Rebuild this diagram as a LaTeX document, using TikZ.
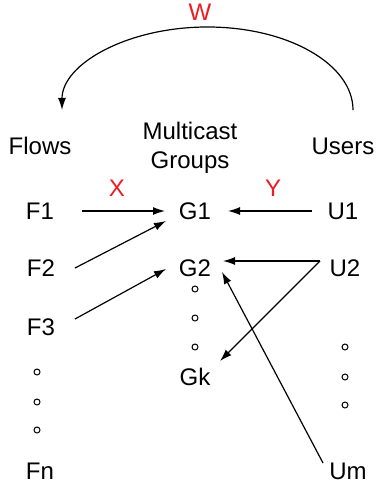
\documentclass[tikz,border=0pt]{standalone}
\usepackage{fontspec}
\setmainfont{Liberation Sans}
\usepackage{xcolor}
\usepackage{tikz}
\usetikzlibrary{arrows.meta, positioning, calc}
\definecolor{wred}{RGB}{237,28,36}
\tikzstyle{item} = [inner sep=2pt, text height=17pt, text depth=0pt, font=\fontsize{24}{29}\selectfont]
\tikzstyle{heading} = [inner sep=2pt, align=center, font=\fontsize{24}{29}\selectfont]
\tikzstyle{weight} = [item, text=wred]
\tikzstyle{smalldot} = [circle, draw=black, line width=1pt, inner sep=0pt, minimum size=6pt]
\tikzstyle{arrow} = [line width=1.2pt, -{Latex[length=12pt,width=8pt]}]

\begin{document}
\begin{tikzpicture}[x=1pt, y=-1pt]
    \useasboundingbox (0,0) rectangle (377,486);

    % Headings
    \node[heading] (flows) at (40,146) {Flows};
    \node[heading] (groups) at (190,147.5) {Multicast\\Groups};
    \node[heading] (users) at (343,146) {Users};

    % Flows
    \node[item] (f1) at (40,211) {F1};
    \node[item] (f2) at (41,268) {F2};
    \node[item] (f3) at (41,327) {F3};
    \node[item] (fn) at (40,471) {Fn};
    \node[smalldot] (fdot1) at (37,372) {};
    \node[smalldot] (fdot2) at (37,402) {};
    \node[smalldot] (fdot3) at (37,430) {};

    % Multicast groups
    \node[item] (g1) at (195,211) {G1};
    \node[item] (g2) at (195,268) {G2};
    \node[item] (gk) at (195,377) {Gk};
    \node[smalldot] (gdot1) at (195,289) {};
    \node[smalldot] (gdot2) at (195,318) {};
    \node[smalldot] (gdot3) at (195,347) {};

    % Users
    \node[item] (u1) at (343,211) {U1};
    \node[item] (u2) at (345,268) {U2};
    \node[item] (um) at (348,471) {Um};
    \node[smalldot] (udot1) at (345,347) {};
    \node[smalldot] (udot2) at (345,377) {};
    \node[smalldot] (udot3) at (345,405) {};

    % Weights
    \node[weight] (w) at (200,12) {W};
    \node[weight] (x) at (117,188) {X};
    \node[weight] (y) at (273,188) {Y};

    % Flows to groups
    \draw[arrow] ($(f1)+(42,0)$) -- ($(g1)+(-30,0)$);
    \draw[arrow] ($(f2)+(34,0)$) -- ($(g1)+(-29,10)$);
    \draw[arrow] ($(f3)+(34,-8)$) -- ($(g2)+(-29,1)$);

    % Users to groups
    \draw[arrow] ($(u1)+(-31,0)$) -- ($(g1)+(33,0)$);
    \draw[arrow] ($(u2)+(-25,-7)$) -- ($(g2)+(28,-7)$);
    \draw[arrow] ($(u2)+(-25,-7)$) -- ($(gk)+(25,-16)$);
    \draw[arrow] ($(um)+(-25,-8)$) -- ($(g2)+(27,4)$);

    % Users back to flows
    \draw[arrow] ($(users)+(10,-36)$) arc[start angle=0, end angle=-180, x radius=145.5, y radius=83];

\end{tikzpicture}
\end{document}
